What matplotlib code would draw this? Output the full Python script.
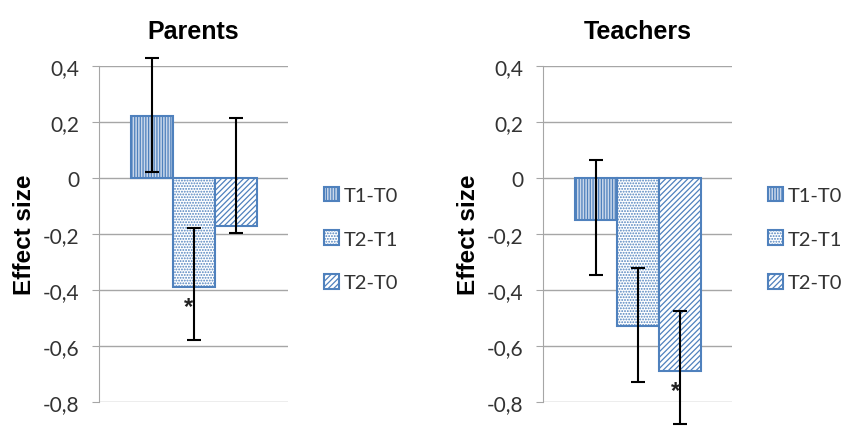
import matplotlib.pyplot as plt
from matplotlib.patches import Patch

plt.rcParams['font.family'] = ['Lato', 'DejaVu Sans']
plt.rcParams['hatch.linewidth'] = 0.9

groups = ["Parents", "Teachers"]
series = ["T1-T0", "T2-T1", "T2-T0"]
values = {"Parents": [0.22, -0.39, -0.17],
          "Teachers": [-0.15, -0.53, -0.69]}
err_lo = {"Parents": [0.02, -0.58, -0.195],
          "Teachers": [-0.345, -0.73, -0.88]}
err_hi = {"Parents": [0.43, -0.18, 0.215],
          "Teachers": [0.065, -0.32, -0.475]}
stars = {"Parents": (1, -0.46), "Teachers": (2, -0.76)}
yticks = [0.4, 0.2, 0, -0.2, -0.4, -0.6, -0.8]
ytick_labels = ["0,4", "0,2", "0", "-0,2", "-0,4", "-0,6", "-0,8"]

blue = '#4f81bd'
hatches = ['||||||', '......', '//////']
faces = ['#c9d7ea', 'white', 'white']
bold_font = ['Liberation Sans', 'DejaVu Sans']

fig = plt.figure(figsize=(8.43, 4.27), dpi=100)
lefts = [0.1174, 0.644]
for g, left in zip(groups, lefts):
    ax = fig.add_axes([left, 0.0562, 0.224, 0.787])
    x = list(range(len(series)))
    v = values[g]
    lo = [vi - l for vi, l in zip(v, err_lo[g])]
    hi = [h - vi for vi, h in zip(v, err_hi[g])]
    for i in x:
        ax.bar(i, v[i], width=1.0, facecolor=faces[i], edgecolor=blue,
               hatch=hatches[i], linewidth=1.5, zorder=2)
    ax.errorbar(x, v, yerr=[lo, hi], fmt='none', ecolor='black',
                elinewidth=1.5, capsize=5, capthick=1.5, zorder=3, clip_on=False)
    sx, sy = stars[g]
    ax.text(sx - 0.12, sy, '*', ha='center', va='center', fontsize=17,
            fontweight='bold', color='#222222', zorder=4, family=bold_font)
    ax.set_ylim(-0.8, 0.4)
    ax.set_xlim(-1.25, 3.22)
    ax.set_yticks(yticks)
    ax.set_yticklabels(ytick_labels, fontsize=15, color='#333333')
    ax.set_xticks([])
    ax.yaxis.grid(True, color='#a6a6a6', linewidth=1.0, zorder=0)
    ax.set_axisbelow(True)
    for s in ['top', 'right', 'bottom']:
        ax.spines[s].set_visible(False)
    ax.spines['left'].set_color('#a6a6a6')
    ax.tick_params(axis='y', length=5, color='#a6a6a6', pad=9)
    ax.set_title(g, fontsize=18, fontweight='bold', pad=20, family=bold_font)
    ax.set_ylabel("Effect size", fontsize=17.5, fontweight='bold', labelpad=5,
                  family=bold_font)
    handles = [Patch(facecolor=faces[i], edgecolor=blue, hatch=hatches[i],
                     linewidth=1.5) for i in x]
    ax.legend(handles, series, loc='center left', bbox_to_anchor=(1.19, 0.485),
              frameon=False, fontsize=14.5, handlelength=0.75, handleheight=0.75,
              labelspacing=1.3, handletextpad=0.25, borderpad=0,
              borderaxespad=0, labelcolor='#333333')

fig.savefig('out.png', dpi=100)
